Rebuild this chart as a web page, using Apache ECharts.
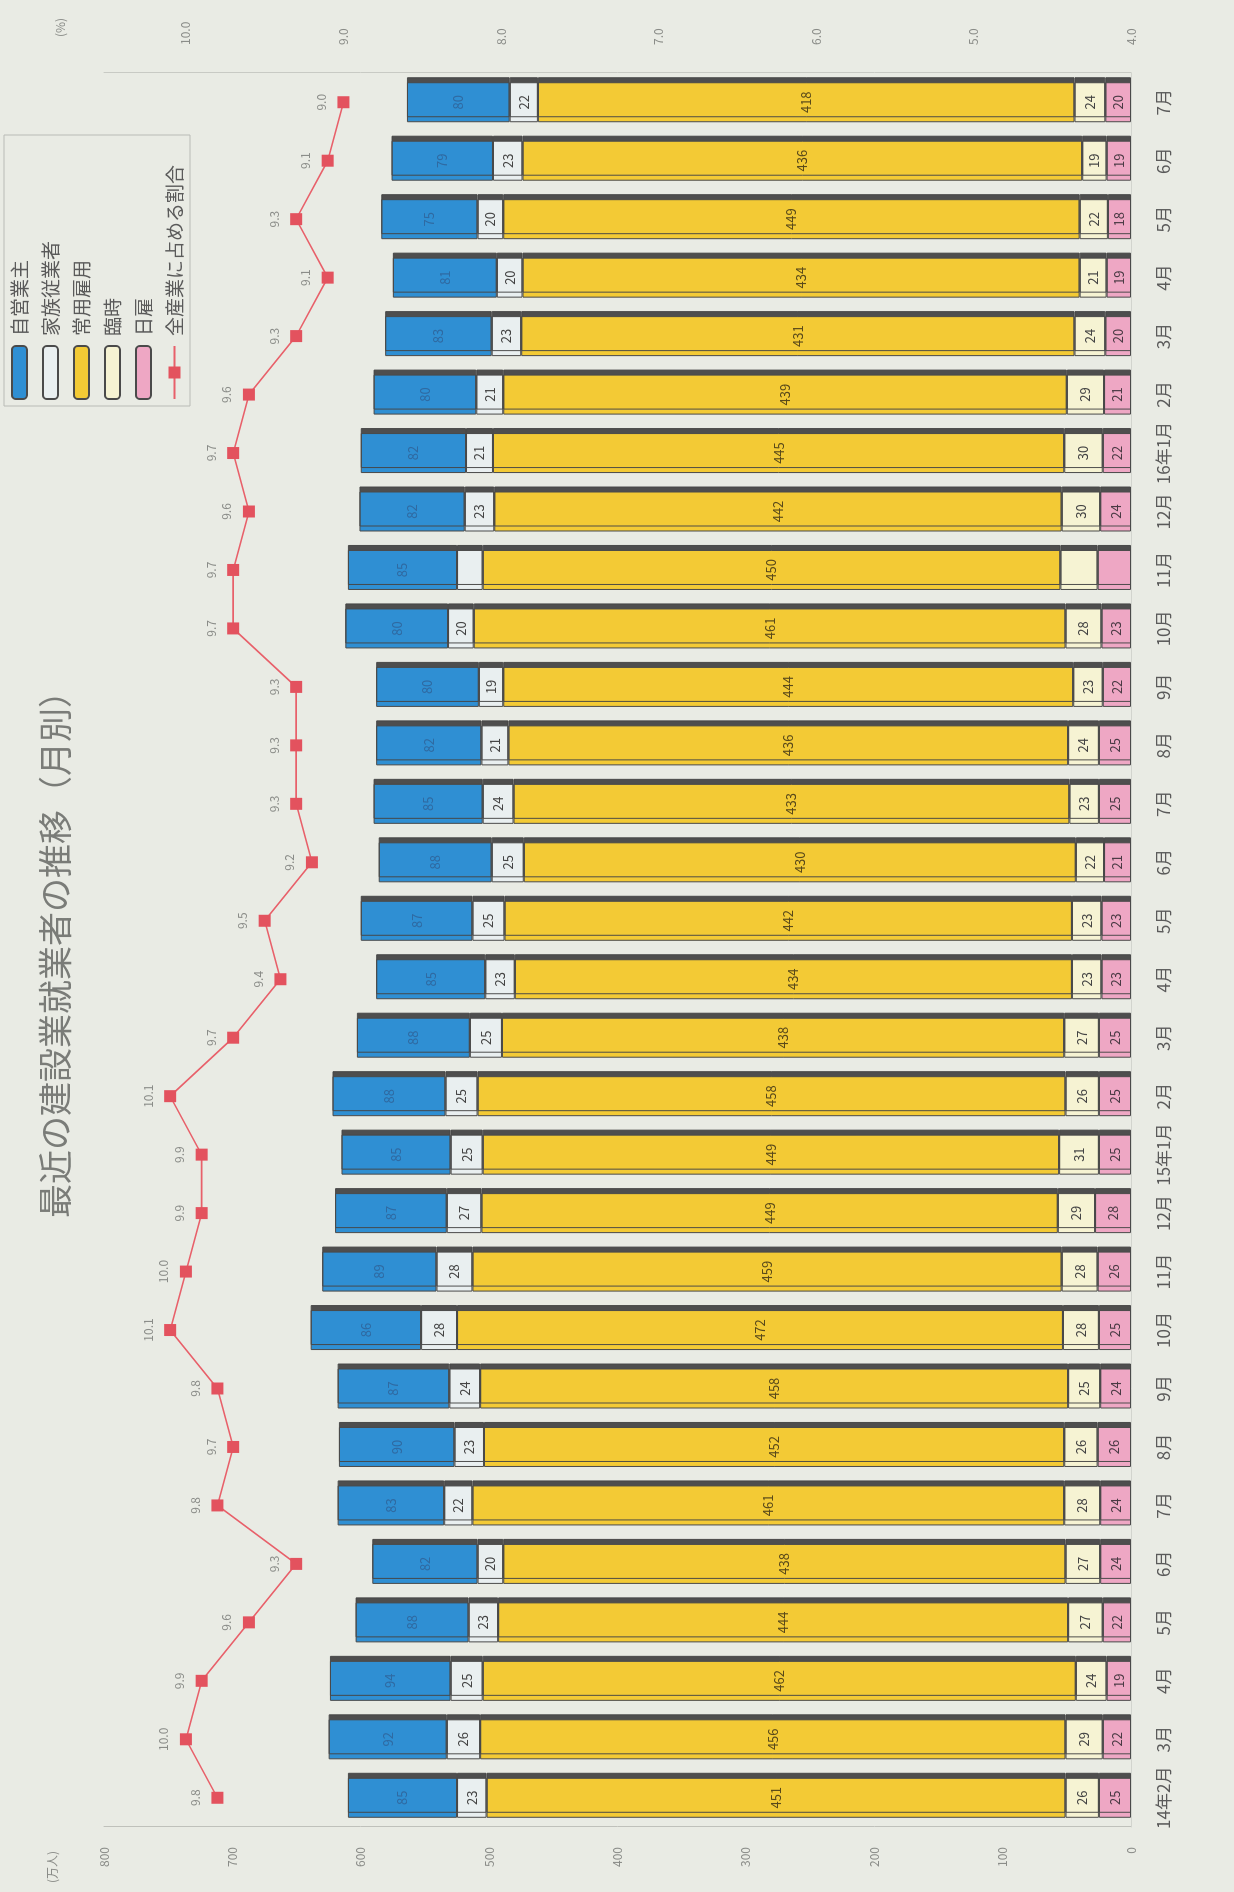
<!DOCTYPE html>
<html>
<head>
<meta charset="utf-8">
<script src="https://cdn.jsdelivr.net/npm/echarts@6/dist/echarts.min.js"></script>
<style>
  html, body { margin: 0; padding: 0; width: 1234px; height: 1892px; overflow: hidden; background: #e9ebe4; }
  #chart { position: absolute; left: 0; top: 0; width: 1892px; height: 1234px;
           transform-origin: 0 0; transform: translateY(1892px) rotate(-90deg); }
</style>
</head>
<body>
<div id="chart"></div>
<script>
// ---- data (万人 / %) ----
const categories = ['14年2月','3月','4月','5月','6月','7月','8月','9月','10月','11月','12月',
  '15年1月','2月','3月','4月','5月','6月','7月','8月','9月','10月','11月','12月',
  '16年1月','2月','3月','4月','5月','6月','7月'];
const hiyatoi = [25,22,19,22,24,24,26,24,25,26,28,25,25,25,23,23,21,25,25,22,23,26,24,22,21,20,19,18,19,20];   // 日雇
const rinji   = [26,29,24,27,27,28,26,25,28,28,29,31,26,27,23,23,22,23,24,23,28,29,30,30,29,24,21,22,19,24];   // 臨時
const joyo    = [451,456,462,444,438,461,452,458,472,459,449,449,458,438,434,442,430,433,436,444,461,450,442,445,439,431,434,449,436,418]; // 常用雇用
const kazoku  = [23,26,25,23,20,22,23,24,28,28,27,25,25,25,23,25,25,24,21,19,20,20,23,21,21,23,20,20,23,22];   // 家族従業者
const jiei    = [85,92,94,88,82,83,90,87,86,89,87,85,88,88,85,87,88,85,82,80,80,85,82,82,80,83,81,75,79,80];   // 自営業主
const ratio   = [9.8,10.0,9.9,9.6,9.3,9.8,9.7,9.8,10.1,10.0,9.9,9.9,10.1,9.7,9.4,9.5,9.2,9.3,9.3,9.3,9.7,9.7,9.6,9.7,9.6,9.3,9.1,9.3,9.1,9.0]; // 全産業に占める割合
const valueTicks = [0,100,200,300,400,500,600,700,800];
const ratioTicks = [4.0,5.0,6.0,7.0,8.0,9.0,10.0];
const unlabeledIndex = 21; // 15年11月: small segments printed without numbers

const FONT = '"Noto Sans CJK JP", "Noto Sans", sans-serif';
const chart = echarts.init(document.getElementById('chart'), null, { renderer: 'canvas' });

function seg(values, hideAt) {
  return values.map((v, i) => (i === hideAt ? { value: v, label: { show: false } } : v));
}
const shadow = { shadowColor: 'rgba(70,70,70,0.95)', shadowBlur: 0, shadowOffsetX: 5, shadowOffsetY: 0 };
function barSeries(name, data, color, labelColor, fontSize) {
  return {
    name, type: 'bar', stack: 'total', data, barWidth: 40,
    itemStyle: Object.assign({ color, borderColor: '#4a4a4a', borderWidth: 1 }, shadow),
    label: { show: true, position: 'inside', color: labelColor, fontSize, fontFamily: FONT },
    emphasis: { disabled: true }
  };
}

chart.setOption({
  backgroundColor: '#e9ebe4',
  animation: false,
  textStyle: { fontFamily: FONT },
  title: {
    text: '最近の建設業就業者の推移（月別）',
    left: 'center', top: 33,
    textStyle: { fontSize: 34, fontWeight: 'normal', color: '#7a7c78', fontFamily: FONT }
  },
  legend: {
    orient: 'vertical', left: 1486, top: 4,
    itemWidth: 53, itemHeight: 15, itemGap: 12,
    padding: [6, 30, 6, 6],
    borderColor: '#b9bbb6', borderWidth: 1,
    itemStyle: { shadowColor: 'rgba(0,0,0,0)', shadowOffsetX: 0 },
    textStyle: { fontSize: 19, color: '#5a5a5a', fontFamily: FONT, padding: [0, 0, 0, 5] },
    data: ['自営業主', '家族従業者', '常用雇用', '臨時', '日雇', '全産業に占める割合']
  },
  grid: { left: 65, right: 73, top: 104, bottom: 103, containLabel: false },
  xAxis: {
    type: 'category', data: categories,
    axisLine: { show: true, lineStyle: { color: '#d2d4ce' } },
    axisTick: { show: false },
    axisLabel: { fontSize: 17, color: '#5a5a5a', margin: 24, interval: 0, fontFamily: FONT }
  },
  yAxis: [
    {
      type: 'value', min: valueTicks[0], max: valueTicks[valueTicks.length - 1], interval: 100,
      name: '(万人)', nameLocation: 'end', nameGap: 46,
      nameTextStyle: { fontSize: 12, color: '#8a8c88', align: 'right', padding: [0, 24, 0, 0] },
      axisLine: { show: true, lineStyle: { color: '#bfc1bb' } },
      axisTick: { show: false },
      splitLine: { show: false },
      axisLabel: { fontSize: 12, color: '#8a8c88', margin: 20 }
    },
    {
      type: 'value', min: ratioTicks[0], max: 10.52, interval: 1,
      name: '(%)', nameLocation: 'end', nameGap: 38,
      nameTextStyle: { fontSize: 12, color: '#8a8c88', align: 'left', padding: [0, 0, 0, 36] },
      axisLine: { show: true, lineStyle: { color: '#c8cac4' } },
      axisTick: { show: false },
      splitLine: { show: false },
      axisLabel: {
        fontSize: 12, color: '#8a8c88', margin: 28, showMaxLabel: false,
        formatter: v => (Math.abs(v - Math.round(v)) < 1e-6 ? v.toFixed(1) : '')
      }
    }
  ],
  series: [
    barSeries('日雇', seg(hiyatoi, unlabeledIndex), '#eea7c4', '#4a3a44', 13),
    barSeries('臨時', seg(rinji, unlabeledIndex), '#f6f3d3', '#444', 13),
    barSeries('常用雇用', joyo, '#f3ca35', '#5a4a1a', 13),
    barSeries('家族従業者', seg(kazoku, unlabeledIndex), '#e9eff0', '#444', 13),
    barSeries('自営業主', jiei, '#2f8fd3', '#2f6aa2', 13),
    {
      name: '全産業に占める割合', type: 'line', yAxisIndex: 1, data: ratio,
      symbol: 'rect', symbolSize: 12,
      lineStyle: { color: '#e8606a', width: 1.6 },
      itemStyle: { color: '#e3525e' },
      label: { show: true, position: 'top', distance: 10, color: '#8a8c88', fontSize: 12,
               formatter: p => p.value.toFixed(1) },
      emphasis: { disabled: true }
    }
  ]
});
</script>
</body>
</html>
